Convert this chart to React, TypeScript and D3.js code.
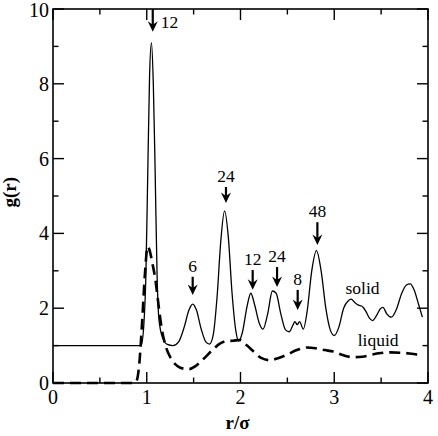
import React from "react";
import * as d3 from "d3";

// radial distribution function, solid phase
const solidR = [
  0, 0.94, 0.97, 0.99, 1.01, 1.03, 1.05, 1.07, 1.09, 1.11, 1.13, 1.17, 1.22, 1.28,
  1.34, 1.4, 1.45, 1.49, 1.53, 1.58, 1.63, 1.67, 1.71, 1.75, 1.79, 1.83, 1.87, 1.91,
  1.95, 1.98, 2.02, 2.07, 2.11, 2.15, 2.2, 2.24, 2.29, 2.34, 2.38, 2.43, 2.48, 2.52,
  2.56, 2.58, 2.605, 2.63, 2.67, 2.71, 2.76, 2.81, 2.86, 2.91, 2.96, 3.0, 3.05, 3.1,
  3.15, 3.18, 3.22, 3.26, 3.29, 3.31, 3.34, 3.38, 3.41, 3.45, 3.49, 3.52, 3.56, 3.61,
  3.66, 3.72, 3.77, 3.81, 3.85, 3.9, 3.94,
];
const solidG = [
  1, 1, 1.6, 2.8, 5.5, 8.2, 9.1, 8.0, 5.6, 2.9, 1.7, 1.2, 1.03, 1.0,
  1.1, 1.5, 1.95, 2.11, 1.95, 1.45, 1.1, 1.04, 1.3, 2.3, 3.8, 4.6, 3.9, 2.4,
  1.4, 1.12, 1.35, 2.05, 2.4, 2.1, 1.6, 1.44, 1.85, 2.46, 2.4, 1.85, 1.42, 1.37,
  1.55, 1.64, 1.56, 1.64, 1.44, 1.9, 3.0, 3.54, 3.0, 2.0, 1.4, 1.27, 1.5, 2.0,
  2.2, 2.24, 2.15, 2.08, 2.06, 2.02, 1.9, 1.72, 1.67, 1.8, 1.98, 2.02, 1.85, 1.76,
  1.95, 2.4, 2.62, 2.65, 2.5, 2.1, 1.76,
];

// radial distribution function, liquid phase
const liquidR = [
  0, 0.86, 0.89, 0.92, 0.95, 0.98, 1.01, 1.03, 1.06, 1.09, 1.12, 1.16, 1.2, 1.26,
  1.33, 1.4, 1.45, 1.52, 1.6, 1.7, 1.78, 1.85, 1.92, 1.99, 2.07, 2.14, 2.22, 2.31,
  2.4, 2.49, 2.6, 2.71, 2.8, 2.9, 2.99, 3.1, 3.2, 3.3, 3.4, 3.5, 3.6, 3.7, 3.8,
  3.88, 3.94,
];
const liquidG = [
  0, 0, 0.05, 0.5, 1.6, 2.9, 3.65, 3.55, 3.2, 2.8, 2.2, 1.45, 1.0, 0.65,
  0.45, 0.38, 0.37, 0.45, 0.63, 0.88, 1.05, 1.12, 1.13, 1.15, 1.0, 0.84, 0.67, 0.61,
  0.66, 0.75, 0.88, 0.95, 0.93, 0.88, 0.84, 0.74, 0.69, 0.7, 0.76, 0.8, 0.82, 0.81, 0.79,
  0.76, 0.72,
];

// coordination-shell arrows: position, tip, tail and neighbour count
const shellR = [1.064, 1.49, 1.845, 2.13, 2.39, 2.61, 2.82];
const shellTip = [9.39, 2.35, 4.81, 2.49, 2.57, 1.95, 3.69];
const shellTail = [10, 2.84, 5.24, 3.02, 3.1, 2.49, 4.3];
const shellCount = ["12", "6", "24", "12", "24", "8", "48"];

const xTicks = [0, 1, 2, 3, 4];
const xMinor = [0.5, 1.5, 2.5, 3.5];
const yTicks = [0, 2, 4, 6, 8, 10];
const yMinor = [1, 3, 5, 7, 9];

const W = 438;
const H = 436;
const margin = { left: 53, right: 10, top: 9, bottom: 53 };
const serif = "Liberation Serif, Times New Roman, DejaVu Serif, Noto Serif, serif";

export default function App() {
  const x = d3.scaleLinear().domain([0, 4]).range([margin.left, W - margin.right]);
  const y = d3.scaleLinear().domain([0, 10]).range([H - margin.bottom, margin.top]);

  const line = d3
    .line<[number, number]>()
    .x((d) => x(d[0]))
    .y((d) => y(d[1]))
    .curve(d3.curveMonotoneX);

  const solidPath = line(solidR.map((r, i) => [r, solidG[i]])) || "";
  const liquidPath = line(liquidR.map((r, i) => [r, liquidG[i]])) || "";

  const x0 = x(0), x1 = x(4), y0 = y(0), y1 = y(10);
  const major = 11;
  const minor = 5.5;

  return (
    <svg
      width={W}
      height={H}
      style={{ position: "absolute", left: 0, top: 0, background: "#fff", fontFamily: serif }}
    >
      <g stroke="#000" strokeWidth={1.4}>
        {xTicks.map((t) => (
          <g key={"xt" + t}>
            <line x1={x(t)} x2={x(t)} y1={y0} y2={y0 - major} />
            <line x1={x(t)} x2={x(t)} y1={y1} y2={y1 + major} />
          </g>
        ))}
        {xMinor.map((t) => (
          <g key={"xm" + t}>
            <line x1={x(t)} x2={x(t)} y1={y0} y2={y0 - minor} />
            <line x1={x(t)} x2={x(t)} y1={y1} y2={y1 + minor} />
          </g>
        ))}
        {yTicks.map((t) => (
          <g key={"yt" + t}>
            <line x1={x0} x2={x0 + major} y1={y(t)} y2={y(t)} />
            <line x1={x1} x2={x1 - major} y1={y(t)} y2={y(t)} />
          </g>
        ))}
        {yMinor.map((t) => (
          <g key={"ym" + t}>
            <line x1={x0} x2={x0 + minor} y1={y(t)} y2={y(t)} />
            <line x1={x1} x2={x1 - minor} y1={y(t)} y2={y(t)} />
          </g>
        ))}
      </g>

      <path d={liquidPath} fill="none" stroke="#000" strokeWidth={2.6} strokeDasharray="11 6" />
      <path d={solidPath} fill="none" stroke="#000" strokeWidth={1.3} strokeLinejoin="round" />

      <rect
        x={x0}
        y={y1}
        width={x1 - x0}
        height={y0 - y1}
        fill="none"
        stroke="#000"
        strokeWidth={1.6}
      />

      <g style={{ fontFamily: serif, fontSize: 20 }} fill="#000">
        {xTicks.map((t) => (
          <text key={"xl" + t} x={x(t)} y={y0 + 21} textAnchor="middle">
            {t}
          </text>
        ))}
        {yTicks.map((t) => (
          <text key={"yl" + t} x={x0 - 4} y={y(t) + (t === 10 ? 8 : 7)} textAnchor="end">
            {t}
          </text>
        ))}
      </g>

      <text
        x={x((0 + 4) / 2) - 3}
        y={H - 7}
        textAnchor="middle"
        style={{ fontFamily: serif, fontWeight: "bold", fontSize: 19 }}
      >
        r/σ
      </text>
      <text
        transform={`translate(16,${y(5.1)}) rotate(-90)`}
        textAnchor="middle"
        style={{ fontFamily: serif, fontWeight: "bold", fontSize: 19 }}
      >
        g(r)
      </text>

      <g style={{ fontFamily: serif, fontSize: 17.5 }} fill="#000">
        {shellR.map((r, i) => {
          const ax = x(r);
          const tip = y(shellTip[i]);
          const tail = y(shellTail[i]);
          const first = i === 0;
          return (
            <g key={"sh" + i}>
              <line x1={ax} x2={ax} y1={tail} y2={tip - 5} stroke="#000" strokeWidth={2.2} />
              <path
                d={`M${ax},${tip} L${ax - 5},${tip - 10.5} L${ax},${tip - 7} L${ax + 5},${tip - 10.5} Z`}
                fill="#000"
              />
              <text
                x={first ? ax + 8 : ax}
                y={first ? tip - 4 : tail - 5}
                textAnchor={first ? "start" : "middle"}
              >
                {shellCount[i]}
              </text>
            </g>
          );
        })}
        <text x={x(3.12)} y={y(2.37)}>solid</text>
        <text x={x(3.25)} y={y(1.0)}>liquid</text>
      </g>
    </svg>
  );
}
